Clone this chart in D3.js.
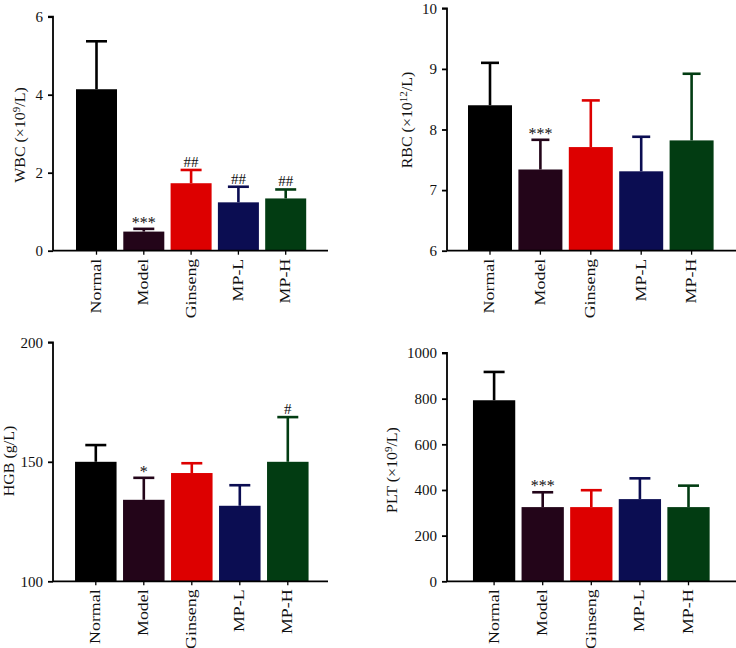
<!DOCTYPE html>
<html>
<head>
<meta charset="utf-8">
<script src="https://cdnjs.cloudflare.com/ajax/libs/d3/7.8.5/d3.min.js"></script>
<style>
  html, body { margin: 0; padding: 0; background: #fff; }
  svg { display: block; }
</style>
</head>
<body>
<svg id="chart" width="736" height="648"></svg>
<script>
// ---------------- data ----------------
const groups = ["Normal", "Model", "Ginseng", "MP-L", "MP-H"];
const colors = ["#000000", "#230519", "#dd0000", "#0b0d52", "#023c12"];

const wbcMean = [4.14, 0.49, 1.73, 1.24, 1.34];
const wbcSD   = [1.23, 0.07, 0.34, 0.40, 0.23];
const wbcSig  = ["", "***", "##", "##", "##"];
const wbcTicks = [0, 2, 4, 6];

const rbcMean = [8.40, 7.34, 7.71, 7.31, 7.82];
const rbcSD   = [0.70, 0.49, 0.77, 0.57, 1.10];
const rbcSig  = ["", "***", "", "", ""];
const rbcTicks = [6, 7, 8, 9, 10];

const hgbMean = [150, 134.1, 145.3, 131.6, 150];
const hgbSD   = [7.0, 9.2, 4.1, 8.6, 18.7];
const hgbSig  = ["", "*", "", "", "#"];
const hgbTicks = [100, 150, 200];

const pltMean = [793, 325, 325, 360, 325];
const pltSD   = [124, 65, 74, 91, 94];
const pltSig  = ["", "***", "", "", ""];
const pltTicks = [0, 200, 400, 600, 800, 1000];

// ---------------- layout ----------------
const panels = [
  { mean: wbcMean, sd: wbcSD, sig: wbcSig, ticks: wbcTicks, domain: [0, 6],
    label: [["WBC (×10", ""], ["9", "sup"], ["/L)", ""]],
    axisX: 53, x0: 72.85, x1: 309.35, xEnd: 328, y0: 250.7, y1: 16.7, pad: 0.133,
    labX: 20, labY: 135, cap: 21 },
  { mean: rbcMean, sd: rbcSD, sig: rbcSig, ticks: rbcTicks, domain: [6, 10],
    label: [["RBC (×10", ""], ["12", "sup"], ["/L)", ""]],
    axisX: 447, x0: 464.8, x1: 716.8, xEnd: 736, y0: 250.7, y1: 8.3, pad: 0.127,
    labX: 407, labY: 120, cap: 18 },
  { mean: hgbMean, sd: hgbSD, sig: hgbSig, ticks: hgbTicks, domain: [100, 200],
    label: [["HGB (g/L)", ""]],
    axisX: 53, x0: 71.8, x1: 311.8, xEnd: 328, y0: 581.3, y1: 342.3, pad: 0.135,
    labX: 9, labY: 461, cap: 21 },
  { mean: pltMean, sd: pltSD, sig: pltSig, ticks: pltTicks, domain: [0, 1000],
    label: [["PLT (×10", ""], ["9", "sup"], ["/L)", ""]],
    axisX: 447, x0: 469.8, x1: 712.8, xEnd: 736, y0: 581.3, y1: 353, pad: 0.13,
    labX: 392, labY: 470, cap: 21 }
];

const FONT = "'Liberation Serif', 'Times New Roman', serif";
const svg = d3.select("#chart");

panels.forEach(p => {
  const g = svg.append("g");
  const x = d3.scaleBand().domain(groups).range([p.x0, p.x1])
    .paddingInner(p.pad).paddingOuter(p.pad / 2);
  const y = d3.scaleLinear().domain(p.domain).range([p.y0, p.y1]);
  const data = groups.map((name, i) => ({ name, mean: p.mean[i], sd: p.sd[i], sig: p.sig[i], color: colors[i] }));

  // bars
  g.selectAll("rect.bar").data(data).enter().append("rect")
    .attr("class", "bar")
    .attr("x", d => x(d.name))
    .attr("width", x.bandwidth())
    .attr("y", d => y(d.mean))
    .attr("height", d => y(p.domain[0]) - y(d.mean))
    .attr("fill", d => d.color);

  // error bars (upper only)
  const eb = g.selectAll("g.err").data(data).enter().append("g").attr("class", "err");
  eb.append("line")
    .attr("x1", d => x(d.name) + x.bandwidth() / 2)
    .attr("x2", d => x(d.name) + x.bandwidth() / 2)
    .attr("y1", d => y(d.mean))
    .attr("y2", d => y(d.mean + d.sd))
    .attr("stroke", d => d.color).attr("stroke-width", 2.6);
  eb.append("line")
    .attr("x1", d => x(d.name) + x.bandwidth() / 2 - p.cap / 2)
    .attr("x2", d => x(d.name) + x.bandwidth() / 2 + p.cap / 2)
    .attr("y1", d => y(d.mean + d.sd))
    .attr("y2", d => y(d.mean + d.sd))
    .attr("stroke", d => d.color).attr("stroke-width", 2.6);

  // significance marks
  g.selectAll("text.sig").data(data.filter(d => d.sig)).enter().append("text")
    .attr("class", "sig")
    .attr("x", d => x(d.name) + x.bandwidth() / 2)
    .attr("y", d => y(d.mean + d.sd) - (d.sig.includes("*") ? 1 : 3))
    .attr("text-anchor", "middle")
    .attr("font-family", FONT)
    .attr("font-size", d => d.sig.includes("*") ? 16 : 15)
    .attr("fill", "#111")
    .text(d => d.sig);

  // y axis
  const yAxis = d3.axisLeft(y).tickValues(p.ticks).tickSize(5).tickPadding(5).tickFormat(d3.format("d"));
  const ya = g.append("g").attr("transform", `translate(${p.axisX},0)`).call(yAxis);
  ya.select(".domain").attr("stroke", "#000").attr("stroke-width", 1.8)
    .attr("d", `M-5,${p.y1}H0V${p.y0}`);
  ya.selectAll(".tick line").attr("stroke", "#000").attr("stroke-width", 1.8);
  ya.selectAll(".tick text").attr("font-family", FONT).attr("font-size", 15).attr("fill", "#111");

  // x axis
  const xAxis = d3.axisBottom(x).tickSize(4).tickFormat("");
  const xa = g.append("g").attr("transform", `translate(0,${p.y0})`).call(xAxis);
  xa.select(".domain").attr("stroke", "#000").attr("stroke-width", 1.8)
    .attr("d", `M${p.axisX},0H${p.xEnd}`);
  xa.selectAll(".tick line").attr("stroke", "#000").attr("stroke-width", 1.3);

  // x labels (rotated)
  g.selectAll("text.xl").data(groups).enter().append("text")
    .attr("class", "xl")
    .attr("transform", d => `translate(${x(d) + x.bandwidth() / 2},${p.y0 + 8}) rotate(-90) scale(1.28,1)`)
    .attr("text-anchor", "end")
    .attr("dy", "0.32em")
    .attr("font-family", FONT)
    .attr("font-size", 14)
    .attr("fill", "#111")
    .text(d => d);

  // y label
  const lab = g.append("text")
    .attr("transform", `translate(${p.labX},${p.labY}) rotate(-90) scale(1.1,1)`)
    .attr("text-anchor", "middle")
    .attr("dy", "0.35em")
    .attr("font-family", FONT)
    .attr("font-size", 14.5)
    .attr("fill", "#111");
  p.label.forEach(([t, kind]) => {
    const ts = lab.append("tspan").text(t);
    if (kind === "sup") ts.attr("font-size", 10).attr("baseline-shift", "super");
  });
});
</script>
</body>
</html>
